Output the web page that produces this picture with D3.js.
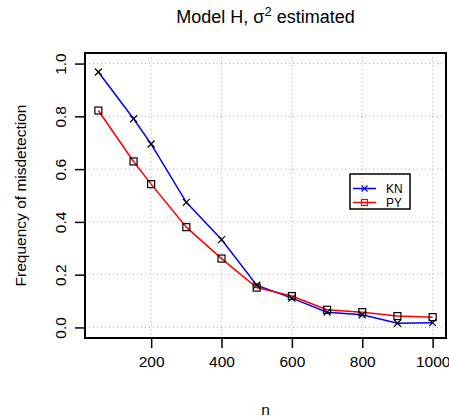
<!DOCTYPE html>
<html>
<head>
<meta charset="utf-8">
<script src="https://cdn.jsdelivr.net/npm/d3@7"></script>
<style>
  body { margin: 0; background: #fff; }
  text { font-family: "Liberation Sans", Arial, sans-serif; }
</style>
</head>
<body>
<div id="chart"></div>
<script>
const nValues = [50, 150, 200, 300, 400, 500, 600, 700, 800, 900, 1000];
const knValues = [0.968, 0.791, 0.695, 0.474, 0.333, 0.16, 0.111, 0.058, 0.048, 0.016, 0.018];
const pyValues = [0.822, 0.629, 0.543, 0.38, 0.261, 0.151, 0.119, 0.067, 0.058, 0.043, 0.039];
const xTicks = [200, 400, 600, 800, 1000];
const yTicks = [0, 0.2, 0.4, 0.6, 0.8, 1.0];

const width = 449, height = 420;
const margin = { top: 53, right: 3, bottom: 82, left: 85 };
const iw = width - margin.left - margin.right;
const ih = height - margin.top - margin.bottom;

const svg = d3.select('#chart')
  .append('svg')
  .attr('width', width)
  .attr('height', height);

const g = svg.append('g')
  .attr('transform', `translate(${margin.left}, ${margin.top})`);

// R-style 4% padding
const xPad = (1000 - 50) * 0.04;
const scaleX = d3.scaleLinear()
  .domain([50 - xPad, 1000 + xPad])
  .range([0, iw]);

const scaleY = d3.scaleLinear()
  .domain([-0.04, 1.04])
  .range([ih, 0]);

// grid
g.append('g')
  .selectAll('line')
  .data(xTicks)
  .join('line')
  .attr('x1', d => scaleX(d)).attr('x2', d => scaleX(d))
  .attr('y1', 0).attr('y2', ih)
  .attr('stroke', '#b0b0b0')
  .attr('stroke-dasharray', '1,3');

g.append('g')
  .selectAll('line')
  .data(yTicks)
  .join('line')
  .attr('y1', d => scaleY(d)).attr('y2', d => scaleY(d))
  .attr('x1', 0).attr('x2', iw)
  .attr('stroke', '#b0b0b0')
  .attr('stroke-dasharray', '1,3');

// axes
const xAxis = g.append('g')
  .attr('transform', `translate(0, ${ih})`)
  .call(d3.axisBottom(scaleX).tickValues(xTicks).tickSize(10).tickPadding(8).tickFormat(d3.format('d')));
xAxis.select('.domain').remove();
xAxis.selectAll('line').attr('stroke-width', 1.5);
xAxis.selectAll('text').attr('font-size', 15.5).attr('fill', '#000');

const yAxis = g.append('g')
  .call(d3.axisLeft(scaleY).tickValues(yTicks).tickSize(10).tickFormat(d3.format('.1f')));
yAxis.select('.domain').remove();
yAxis.selectAll('line').attr('stroke-width', 1.5);
yAxis.selectAll('text')
  .attr('font-size', 15.5)
  .attr('fill', '#000')
  .attr('x', null).attr('dy', null)
  .attr('text-anchor', 'middle')
  .attr('transform', 'translate(-24, 0) rotate(-90)')
  .attr('dy', '0.35em');

// series
const line = d3.line()
  .x((d, i) => scaleX(nValues[i]))
  .y(d => scaleY(d));

g.append('path')
  .datum(knValues)
  .attr('d', line)
  .attr('fill', 'none')
  .attr('stroke', '#0000ff')
  .attr('stroke-width', 1.5);

g.append('path')
  .datum(pyValues)
  .attr('d', line)
  .attr('fill', 'none')
  .attr('stroke', '#ff0000')
  .attr('stroke-width', 1.5);

const s = 3.5;
g.append('g')
  .selectAll('path')
  .data(knValues)
  .join('path')
  .attr('d', (d, i) => {
    const x = scaleX(nValues[i]), y = scaleY(d);
    return `M${x - s},${y - s}L${x + s},${y + s}M${x - s},${y + s}L${x + s},${y - s}`;
  })
  .attr('stroke', '#000')
  .attr('stroke-width', 1.2);

g.append('g')
  .selectAll('rect')
  .data(pyValues)
  .join('rect')
  .attr('x', (d, i) => scaleX(nValues[i]) - s)
  .attr('y', d => scaleY(d) - s)
  .attr('width', 2 * s).attr('height', 2 * s)
  .attr('fill', 'none')
  .attr('stroke', '#000')
  .attr('stroke-width', 1.2);

// box
g.append('rect')
  .attr('width', iw).attr('height', ih)
  .attr('fill', 'none')
  .attr('stroke', '#000')
  .attr('stroke-width', 2);

// legend
const legend = svg.append('g').attr('transform', 'translate(350, 174)');
legend.append('rect')
  .attr('width', 60).attr('height', 35)
  .attr('fill', 'none')
  .attr('stroke', '#000')
  .attr('stroke-width', 1.5);
const legItems = [
  { name: 'KN', color: '#0000ff', mark: 'x' },
  { name: 'PY', color: '#ff0000', mark: 'sq' }
];
legItems.forEach((it, i) => {
  const y = 14.5 + i * 14;
  legend.append('line')
    .attr('x1', 3).attr('x2', 26)
    .attr('y1', y).attr('y2', y)
    .attr('stroke', it.color).attr('stroke-width', 1.5);
  if (it.mark === 'x') {
    legend.append('path')
      .attr('d', `M${14.5 - 3},${y - 3}L${14.5 + 3},${y + 3}M${14.5 - 3},${y + 3}L${14.5 + 3},${y - 3}`)
      .attr('stroke', it.color).attr('stroke-width', 1.2);
  } else {
    legend.append('rect')
      .attr('x', 14.5 - 3).attr('y', y - 3)
      .attr('width', 6).attr('height', 6)
      .attr('fill', 'none')
      .attr('stroke', it.color).attr('stroke-width', 1.2);
  }
  legend.append('text')
    .attr('x', 36).attr('y', y)
    .attr('dy', '0.35em')
    .attr('font-size', 12)
    .text(it.name);
});

// title and labels
const title = svg.append('text')
  .attr('x', margin.left + iw / 2)
  .attr('y', 23)
  .attr('text-anchor', 'middle')
  .attr('font-size', 18);
title.append('tspan').text('Model H, σ');
title.append('tspan').attr('dy', -7).attr('font-size', 13).text('2');
title.append('tspan').attr('dy', 7).text(' estimated');

svg.append('text')
  .attr('x', margin.left + iw / 2)
  .attr('y', 415)
  .attr('text-anchor', 'middle')
  .attr('font-size', 15.5)
  .text('n');

svg.append('text')
  .attr('transform', `translate(21, ${margin.top + ih / 2}) rotate(-90)`)
  .attr('text-anchor', 'middle')
  .attr('dy', '0.35em')
  .attr('font-size', 15.5)
  .text('Frequency of misdetection');
</script>
</body>
</html>
